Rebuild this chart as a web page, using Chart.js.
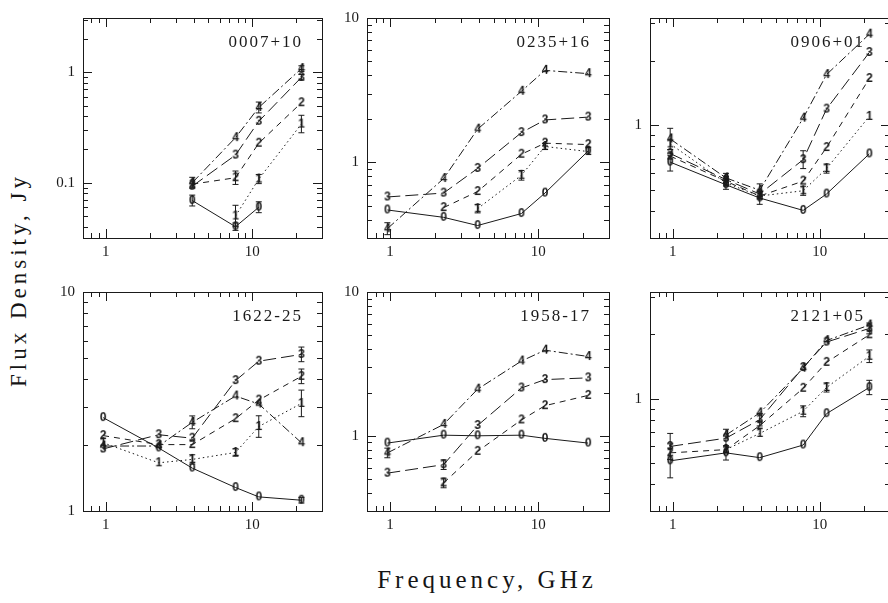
<!DOCTYPE html>
<html>
<head>
<meta charset="utf-8">
<script src="https://cdn.jsdelivr.net/npm/chart.js@4.4.0/dist/chart.umd.min.js"></script>
<style>
  body { margin: 0; background: #fff; width: 888px; height: 603px; overflow: hidden; position: relative; }
  canvas { position: absolute; }
  .axtitle { position: absolute; font-family: "Liberation Serif", serif; color: #151515; white-space: nowrap; }
</style>
</head>
<body>
<div class="axtitle" style="left:487px; top:566px; font-size:25px; letter-spacing:4px; transform:translateX(-50%);">Frequency, GHz</div>
<div class="axtitle" style="left:19px; top:280px; font-size:23px; letter-spacing:4px; transform:translate(-50%,-50%) rotate(-90deg);">Flux Density, Jy</div>
<script>
// RATAN-600 frequencies, GHz
const freqs = [0.96, 2.3, 3.9, 7.7, 11.1, 21.7];
const sourceNames = ['0007+10', '0235+16', '0906+01', '1622-25', '1958-17', '2121+05'];
const epochs = ['0', '1', '2', '3', '4'];

// flux densities (Jy), one row per epoch 0..4, columns follow freqs
const flux0007 = [
  [null, null, 0.069, 0.040, 0.060, null],
  [null, null, null, 0.050, 0.108, 0.34],
  [null, null, 0.097, 0.111, 0.228, 0.53],
  [null, null, 0.093, 0.178, 0.36, 0.90],
  [null, null, 0.100, 0.256, 0.48, 1.08]
];
const flux0235 = [
  [0.469, 0.417, 0.366, 0.443, 0.614, 1.20],
  [null, null, 0.479, 0.815, 1.29, 1.19],
  [null, 0.487, 0.629, 1.14, 1.36, 1.33],
  [0.577, 0.614, 0.91, 1.61, 1.97, 2.06],
  [0.348, 0.774, 1.70, 3.11, 4.34, 4.12]
];
const flux0906 = [
  [0.675, 0.53, 0.46, 0.403, 0.48, 0.737],
  [0.82, 0.54, 0.47, 0.497, 0.63, 1.10],
  [0.72, 0.55, 0.47, 0.551, 0.789, 1.65],
  [0.74, 0.56, 0.48, 0.693, 1.19, 2.18],
  [0.865, 0.57, 0.50, 1.08, 1.72, 2.65]
];
const flux1622 = [
  [2.67, 1.94, 1.57, 1.28, 1.16, 1.12],
  [2.05, 1.66, 1.72, 1.85, 2.43, 3.10],
  [2.21, 2.01, 2.01, 2.64, 3.21, 4.12],
  [1.92, 2.23, 2.15, 3.94, 4.83, 5.19],
  [1.98, 1.98, 2.54, 3.35, 3.08, 2.05]
];
const flux1958 = [
  [0.89, 1.01, 1.00, 1.01, 0.96, 0.89],
  [null, null, null, null, null, null],
  [null, 0.47, 0.78, 1.29, 1.62, 1.91],
  [0.55, 0.63, 1.18, 2.15, 2.46, 2.53],
  [0.76, 1.20, 2.11, 3.31, 3.94, 3.56]
];
const flux2121 = [
  [0.514, 0.56, 0.532, 0.609, 0.853, 1.13],
  [null, 0.58, 0.69, 0.875, 1.13, 1.58],
  [0.56, 0.58, 0.75, 1.12, 1.48, 1.99],
  [0.60, 0.656, 0.80, 1.40, 1.84, 2.13],
  [null, 0.678, 0.86, 1.39, 1.87, 2.21]
];

// relative errors (0 = no bar drawn)
const err0007 = [
  [0, 0, 0.12, 0.08, 0.12, 0],
  [0, 0, 0, 0.25, 0.10, 0.20],
  [0, 0, 0, 0.15, 0, 0],
  [0, 0, 0, 0, 0, 0.06],
  [0, 0, 0.12, 0, 0.12, 0.06]
];
const err0235 = [
  [0, 0, 0, 0, 0, 0],
  [0, 0, 0.07, 0.08, 0.05, 0],
  [0, 0, 0, 0, 0, 0],
  [0, 0, 0, 0, 0, 0],
  [0.10, 0, 0, 0, 0, 0]
];
const err0906 = [
  [0.10, 0.05, 0.07, 0, 0, 0],
  [0, 0, 0, 0.05, 0.05, 0],
  [0, 0.05, 0, 0, 0, 0],
  [0, 0, 0, 0.10, 0, 0],
  [0.12, 0.05, 0.07, 0, 0, 0]
];
const err1622 = [
  [0, 0, 0, 0, 0, 0.03],
  [0, 0, 0.05, 0.04, 0.12, 0.15],
  [0, 0, 0, 0, 0, 0.08],
  [0, 0, 0, 0, 0, 0.08],
  [0, 0, 0.07, 0, 0, 0]
];
const err1958 = [
  [0, 0, 0, 0, 0, 0],
  [0, 0, 0, 0, 0, 0],
  [0, 0.08, 0, 0, 0, 0],
  [0, 0.08, 0, 0, 0, 0],
  [0.08, 0, 0, 0, 0, 0]
];
const err2121 = [
  [0.20, 0.08, 0, 0, 0, 0.08],
  [0, 0, 0, 0.06, 0.05, 0.07],
  [0, 0, 0, 0, 0, 0],
  [0.15, 0.10, 0.07, 0, 0, 0.06],
  [0, 0, 0, 0, 0, 0]
];

const yMins = [0.0316, 0.31, 0.34, 1, 0.315, 0.345];
const yMaxs = [3.1, 10, 3.15, 10, 10, 3.15];
const yTickLabels = [[0.1, 1], [1, 10], [1], [1, 10], [1, 10], [1]];
const xTickLabels = [1, 10];

const fluxes = [flux0007, flux0235, flux0906, flux1622, flux1958, flux2121];
const errors = [err0007, err0235, err0906, err1622, err1958, err2121];

// layout of the 6 boxes (plot area edges in page pixels)
const cols = [[83, 322], [367, 609], [650, 890]];
const rows = [[11, 238], [285, 511]];
const nameInset = [19, 18, 25];
const dashes = [[], [1.5, 3], [6, 5], [13, 5], [9, 3, 2, 3]];
const ink = '#1a1a1a';

function digitImage(d) {
  const c = document.createElement('canvas');
  c.width = 10; c.height = 13;
  const g = c.getContext('2d');
  g.fillStyle = ink;
  g.font = 'bold 12px "Liberation Sans"';
  g.textAlign = 'center';
  g.textBaseline = 'middle';
  g.fillText(d, 5, 7);
  return c;
}
const markers = epochs.map(digitImage);

function logTicks(min, max) {
  const out = [];
  for (let d = Math.floor(Math.log10(min)); d <= Math.ceil(Math.log10(max)); d++) {
    for (let m = 1; m <= 9; m++) {
      const v = m * Math.pow(10, d);
      if (v >= min * 0.999 && v <= max * 1.001) out.push({ v, major: m === 1 });
    }
  }
  return out;
}

const framePlugin = {
  id: 'frame',
  afterDatasetsDraw(chart, args, opts) {
    const ctx = chart.ctx;
    const { left, right, top, bottom } = chart.chartArea;
    const xs = chart.scales.x, ys = chart.scales.y;
    ctx.save();
    ctx.strokeStyle = ink;
    ctx.lineWidth = 1;
    // error bars
    chart.data.datasets.forEach((ds, di) => {
      const meta = chart.getDatasetMeta(di);
      ds.data.forEach((p, i) => {
        if (!p.e) return;
        const px = meta.data[i].x;
        const y1 = ys.getPixelForValue(p.y * (1 + p.e));
        const y2 = ys.getPixelForValue(p.y / (1 + p.e));
        ctx.beginPath();
        ctx.moveTo(px, y1); ctx.lineTo(px, y2);
        ctx.moveTo(px - 3, y1); ctx.lineTo(px + 3, y1);
        ctx.moveTo(px - 3, y2); ctx.lineTo(px + 3, y2);
        ctx.stroke();
      });
    });
    // box
    ctx.strokeRect(Math.round(left) + 0.5, Math.round(top) + 0.5, Math.round(right - left), Math.round(bottom - top));
    // inward ticks on all sides
    ctx.beginPath();
    logTicks(xs.min, xs.max).forEach(t => {
      const px = Math.round(xs.getPixelForValue(t.v)) + 0.5;
      const len = t.major ? 9 : 5;
      ctx.moveTo(px, bottom); ctx.lineTo(px, bottom - len);
      ctx.moveTo(px, top); ctx.lineTo(px, top + len);
    });
    logTicks(ys.min, ys.max).forEach(t => {
      const py = Math.round(ys.getPixelForValue(t.v)) + 0.5;
      const len = t.major ? 9 : 5;
      ctx.moveTo(left, py); ctx.lineTo(left + len, py);
      ctx.moveTo(right, py); ctx.lineTo(right - len, py);
    });
    ctx.stroke();
    // source name
    ctx.fillStyle = ink;
    ctx.font = '17px "Liberation Serif"';
    ctx.letterSpacing = '2px';
    ctx.textAlign = 'right';
    ctx.textBaseline = 'alphabetic';
    ctx.fillText(opts.name, right - opts.inset, top + 29);
    ctx.restore();
  }
};

function fmt(v) {
  return v < 1 ? String(v) : String(Math.round(v));
}

sourceNames.forEach((name, k) => {
  const [l, r] = cols[k % 3];
  const [t, b] = rows[Math.floor(k / 3)];
  const cv = document.createElement('canvas');
  cv.width = (r - l) + 62;
  cv.height = (b - t) + 40;
  cv.style.left = (l - 50) + 'px';
  cv.style.top = (t - 10) + 'px';
  document.body.appendChild(cv);

  const datasets = [];
  fluxes[k].forEach((row, s) => {
    const pts = [];
    row.forEach((y, i) => { if (y != null) pts.push({ x: freqs[i], y: y, e: errors[k][s][i] }); });
    if (!pts.length) return;
    datasets.push({
      label: epochs[s],
      data: pts,
      borderColor: ink,
      borderWidth: 1,
      borderDash: dashes[s],
      pointStyle: markers[s],
      fill: false,
      tension: 0
    });
  });

  new Chart(cv, {
    type: 'line',
    data: { datasets },
    options: {
      responsive: false,
      animation: false,
      devicePixelRatio: 1,
      layout: { padding: { top: 10, right: 12, left: 0, bottom: 0 } },
      plugins: { legend: { display: false }, tooltip: { enabled: false },
                 frame: { name, inset: nameInset[k % 3] } },
      scales: {
        x: {
          type: 'logarithmic', min: 0.7, max: 30,
          grid: { display: false, drawTicks: false }, border: { display: false },
          afterBuildTicks: s => { s.ticks = xTickLabels.map(v => ({ value: v })); },
          afterFit: s => { s.height = 30; },
          ticks: { autoSkip: false, maxRotation: 0, padding: 5, color: ink,
                   font: { family: 'Liberation Serif', size: 15 }, callback: v => fmt(v) }
        },
        y: {
          type: 'logarithmic', min: yMins[k], max: yMaxs[k],
          grid: { display: false, drawTicks: false }, border: { display: false },
          afterBuildTicks: s => { s.ticks = yTickLabels[k].map(v => ({ value: v })); },
          afterFit: s => { s.width = 50; },
          ticks: { autoSkip: false, padding: 8, color: ink,
                   font: { family: 'Liberation Serif', size: 15 }, callback: v => fmt(v) }
        }
      }
    },
    plugins: [framePlugin]
  });
});
</script>
</body>
</html>
